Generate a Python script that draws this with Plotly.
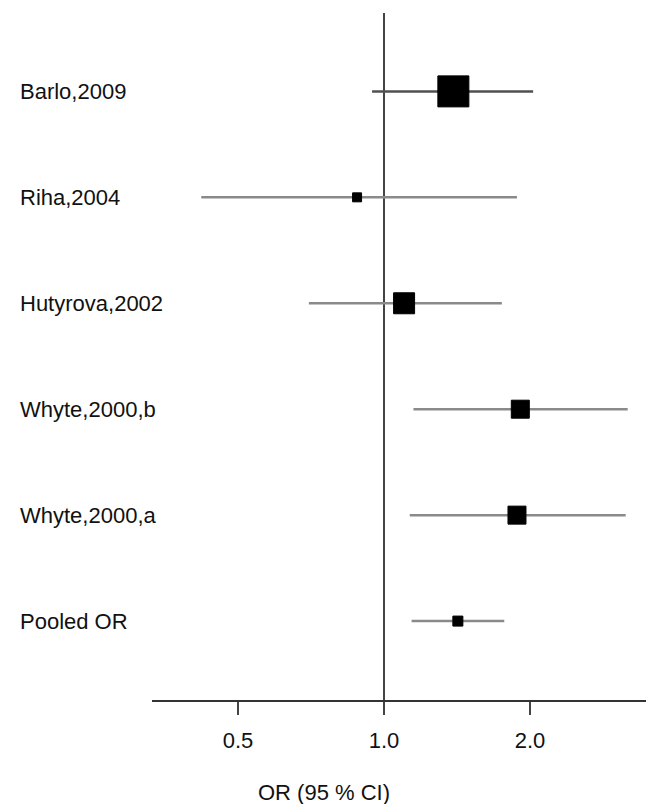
import math
import plotly.graph_objects as go

# ---- data ----
studies = ["Barlo,2009", "Riha,2004", "Hutyrova,2002", "Whyte,2000,b", "Whyte,2000,a", "Pooled OR"]
odds_ratio = [1.39, 0.88, 1.10, 1.91, 1.88, 1.42]
ci_low = [0.945, 0.42, 0.70, 1.15, 1.13, 1.14]
ci_high = [2.03, 1.88, 1.75, 3.18, 3.15, 1.77]
weights = [45.1, 3.8, 20.7, 15.2, 15.2, None]  # relative study weights (pooled has none)
tick_vals = [0.5, 1.0, 2.0]
tick_text = ["0.5", "1.0", "2.0"]
x_title = "OR (95 % CI)"

# ---- styling ----
FONT = "Liberation Sans, Arial, sans-serif"
OFF = 8  # page body margin offset
n = len(studies)
ypos = [n - i for i in range(n)]  # top row first
box_scale = 31 / math.sqrt(45.1)
sizes = [box_scale * math.sqrt(w) if w is not None else 10 for w in weights]
line_colors = ["#505050"] + ["#8a8a8a"] * (n - 1)

fig = go.Figure()

# CI lines
for i in range(n):
    fig.add_trace(go.Scatter(
        x=[ci_low[i], ci_high[i]], y=[ypos[i], ypos[i]],
        mode="lines", line=dict(color=line_colors[i], width=2.5),
        showlegend=False, hoverinfo="skip"))

# point estimates
fig.add_trace(go.Scatter(
    x=odds_ratio, y=ypos, mode="markers", opacity=1,
    marker=dict(symbol="square", size=sizes, color="#000000", opacity=1,
                line=dict(width=1, color="#000000")),
    showlegend=False))

# reference line at OR = 1
fig.add_shape(type="line", xref="x", yref="paper", x0=1, x1=1, y0=0, y1=1,
              line=dict(color="#444444", width=2), layer="below")

plot_w = 654 - 152
# study labels (left-aligned)
for i in range(n):
    fig.add_annotation(xref="paper", yref="y", x=(18 - 152) / plot_w, y=ypos[i],
                       text=studies[i], showarrow=False, xanchor="left", yanchor="middle",
                       font=dict(family=FONT, size=22, color="#111111"))

# x-axis title
fig.add_annotation(xref="paper", yref="paper", x=(324 - 152) / plot_w, y=0, yshift=-92,
                   text=x_title, showarrow=False, xanchor="center", yanchor="middle",
                   font=dict(family=FONT, size=22, color="#111111"))

x_lo = 2 ** ((152 - 384) / 146)
x_hi = 2 ** ((654 - 384) / 146)

fig.update_layout(
    width=654 - OFF, height=804 - OFF,
    margin=dict(l=152 - OFF, r=0, t=13 - OFF, b=104, pad=0),
    paper_bgcolor="white", plot_bgcolor="white",
    font=dict(family=FONT, size=22, color="#111111"),
    xaxis=dict(type="log", range=[math.log10(x_lo), math.log10(x_hi)],
               tickvals=tick_vals, ticktext=tick_text,
               ticks="outside", ticklen=13, tickwidth=2, tickcolor="#444444",
               ticklabelstandoff=7,
               showline=True, linecolor="#333333", linewidth=2,
               showgrid=False, zeroline=False,
               tickfont=dict(family=FONT, size=22, color="#111111")),
    yaxis=dict(range=[0.255, n + 0.74], showticklabels=False, showgrid=False,
               zeroline=False, showline=False, ticks=""),
)

fig.write_html("out.html")
